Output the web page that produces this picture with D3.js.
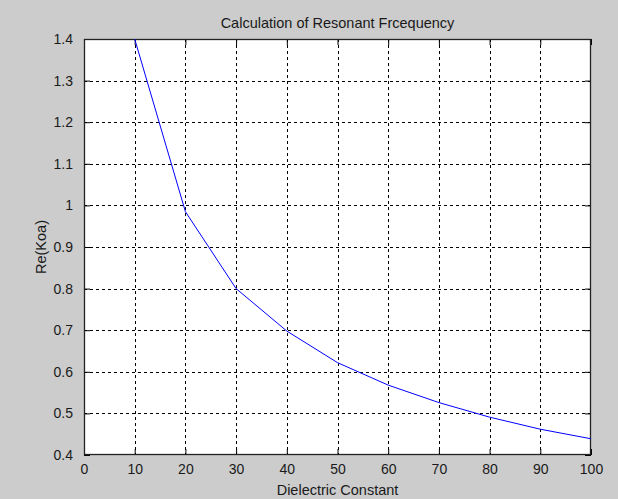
<!DOCTYPE html>
<html><head><meta charset="utf-8">
<script src="https://cdn.jsdelivr.net/npm/d3@7"></script>
<style>html,body{margin:0;padding:0;background:#cccccc;}svg{display:block;}</style>
</head><body>
<script>
const dielectric = [10, 20, 30, 40, 50, 60, 70, 80, 90, 100];
const reKoa = [1.40, 0.985, 0.80, 0.698, 0.622, 0.568, 0.526, 0.491, 0.462, 0.439];
const xTicks = [0, 10, 20, 30, 40, 50, 60, 70, 80, 90, 100];
const yTicks = [0.4, 0.5, 0.6, 0.7, 0.8, 0.9, 1, 1.1, 1.2, 1.3, 1.4];

const W = 618, H = 499;
const m = {left: 84, top: 39, right: 591, bottom: 455};
const svg = d3.select("body").append("svg").attr("width", W).attr("height", H);
svg.append("rect").attr("width", W).attr("height", H).attr("fill", "#cccccc");

const x = d3.scaleLinear().domain([0, 100]).range([m.left, m.right]);
const y = d3.scaleLinear().domain([0.4, 1.4]).range([m.bottom, m.top]);

svg.append("rect").attr("x", m.left).attr("y", m.top)
  .attr("width", m.right - m.left).attr("height", m.bottom - m.top).attr("fill", "#ffffff");

const font = "Liberation Sans, Arial, sans-serif";
const txt = "#1a1a1a";
const grid = svg.append("g").attr("stroke", "#000").attr("stroke-width", 1).attr("stroke-dasharray", "3,3");
xTicks.slice(1, -1).forEach(t => {
  grid.append("line").attr("x1", Math.round(x(t)) + 0.5).attr("x2", Math.round(x(t)) + 0.5)
    .attr("y1", m.top).attr("y2", m.bottom);
});
yTicks.slice(1, -1).forEach(t => {
  grid.append("line").attr("y1", Math.round(y(t)) + 0.5).attr("y2", Math.round(y(t)) + 0.5)
    .attr("x1", m.left).attr("x2", m.right);
});

// axes with inward ticks
const tl = 6;
const xAxisB = d3.axisBottom(x).tickValues(xTicks).tickSizeInner(-tl).tickSizeOuter(0).tickPadding(tl + 3).tickFormat(d3.format("d"));
const xAxisT = d3.axisTop(x).tickValues(xTicks).tickSizeInner(-tl).tickSizeOuter(0).tickFormat("");
const yAxisL = d3.axisLeft(y).tickValues(yTicks).tickSizeInner(-tl).tickSizeOuter(0).tickPadding(tl + 5).tickFormat(d => String(+d.toFixed(1)));
const yAxisR = d3.axisRight(y).tickValues(yTicks).tickSizeInner(-tl).tickSizeOuter(0).tickFormat("");

function style(g) {
  g.select(".domain").remove();
  g.selectAll("line").attr("stroke", "#000");
  g.selectAll("text").attr("font-family", font).attr("font-size", 14).attr("fill", txt);
}
svg.append("g").attr("transform", `translate(0,${m.bottom})`).call(xAxisB).call(style);
svg.append("g").attr("transform", `translate(0,${m.top})`).call(xAxisT).call(style);
svg.append("g").attr("transform", `translate(${m.left},0)`).call(yAxisL).call(style);
svg.append("g").attr("transform", `translate(${m.right},0)`).call(yAxisR).call(style);

// box
svg.append("rect").attr("x", m.left + 0.5).attr("y", m.top + 0.5)
  .attr("width", m.right - m.left - 1).attr("height", m.bottom - m.top - 1)
  .attr("fill", "none").attr("stroke", "#222").attr("stroke-width", 1.3);

// line
const line = d3.line().x((d, i) => x(dielectric[i])).y(d => y(d));
svg.append("path").datum(reKoa).attr("d", line).attr("fill", "none")
  .attr("stroke", "#0000ff").attr("stroke-width", 1);

svg.append("text").attr("x", (m.left + m.right) / 2).attr("y", 28).attr("text-anchor", "middle")
  .attr("font-family", font).attr("font-size", 14.5).attr("fill", txt).text("Calculation of Resonant Frcequency");
svg.append("text").attr("x", (m.left + m.right) / 2).attr("y", 495).attr("text-anchor", "middle")
  .attr("font-family", font).attr("font-size", 14.5).attr("fill", txt).text("Dielectric Constant");
svg.append("text").attr("transform", `translate(46,${(m.top + m.bottom) / 2}) rotate(-90)`).attr("text-anchor", "middle")
  .attr("font-family", font).attr("font-size", 14.5).attr("fill", txt).text("Re(Koa)");
</script>
</body></html>
